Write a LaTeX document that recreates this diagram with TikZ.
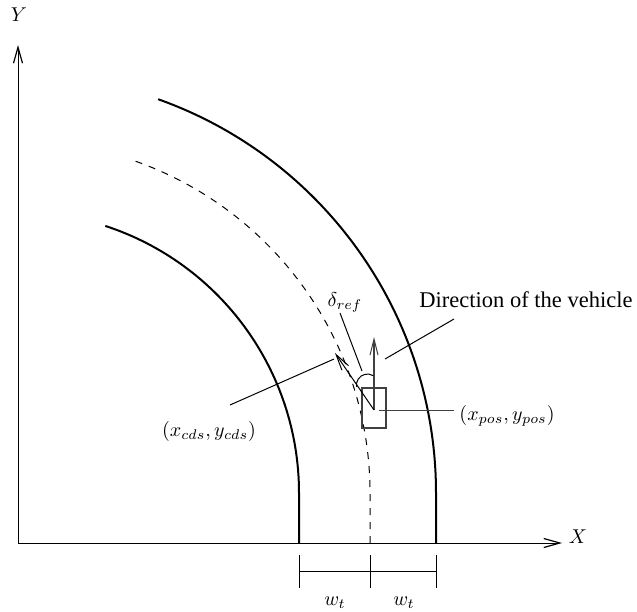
\documentclass[tikz,border=0pt]{standalone}
\usepackage{fontspec}
\setmainfont{Liberation Serif}
\usetikzlibrary{arrows.meta}
\begin{document}
\begin{tikzpicture}[x=0.5pt,y=-0.5pt,
  axis/.style={line width=0.5pt,-{Straight Barb[length=8pt,width=4.5pt,line width=0.6pt]}},
  track/.style={line width=1pt},
  centre/.style={line width=0.5pt,dash pattern=on 3.5pt off 3.5pt},
  thin/.style={line width=0.5pt},
  veh/.style={line width=0.6pt,draw=black!75},
  openarrow/.style={-{Straight Barb[length=8pt,width=4pt,line width=0.5pt]}},
  lbl/.style={inner sep=0pt,anchor=base}]
\useasboundingbox (0,0) rectangle (637,611);
% axes
\coordinate (O) at (18,543);
\coordinate (Ytip) at (18,45);
\coordinate (Xtip) at (562,543);
\draw[axis] (O) -- (Ytip);
\draw[axis] (O) -- (Xtip);
\node[inner sep=0pt] (Ylab) at (19,15) {$Y$};
\node[inner sep=0pt] (Xlab) at (578,537) {$X$};
% tracks
\coordinate (inB) at (299,543);
\coordinate (ceB) at (370,543);
\coordinate (ouB) at (436,543);
\draw[track] (inB) -- (299,493) arc[start angle=0,end angle=-71.9,radius=281];
\draw[centre] (ceB) -- (370,493) arc[start angle=0,end angle=-70.8,radius=352];
\draw[track] (ouB) -- (436,493) arc[start angle=0,end angle=-70.4,radius=418];
% vehicle
\node[veh,draw,minimum width=12pt,minimum height=20pt,inner sep=0pt] (car) at (374,408) {};
\coordinate (P) at (374,410);
\coordinate (head) at (374,337);
\coordinate (cds) at (335,353);
\draw[veh,openarrow] (P) -- (head);
\draw[thin,openarrow] (P) -- (cds);
\draw[thin] (373.3,375.7) arc[start angle=-58,end angle=-189,radius=11];
% leaders
\coordinate (posA) at (379,410.5);
\coordinate (posB) at (454,410.5);
\draw[veh] (posA) -- (posB);
\coordinate (cdsA) at (334,359);
\coordinate (cdsB) at (230,405);
\draw[thin] (cdsA) -- (cdsB);
\coordinate (dirA) at (385,359);
\coordinate (dirB) at (454,319);
\draw[thin] (dirA) -- (dirB);
\coordinate (delA) at (340,313);
\coordinate (delB) at (362,371);
\draw[thin] (delA) -- (delB);
% labels
\node[lbl] (dir) at (526,307) {\fontsize{11.25}{13}\selectfont Direction of the vehicle};
\node[lbl] (delta) at (345,306) {$\delta_{ref}$};
\node[inner sep=0pt] (poslab) at (507,416) {$(x_{pos},y_{pos})$};
\node[inner sep=0pt] (cdslab) at (209,431) {$(x_{cds},y_{cds})$};
% dimension
\coordinate (d1t) at (299,555); \coordinate (d1b) at (299,588);
\coordinate (d2t) at (370,555); \coordinate (d2b) at (370,588);
\coordinate (d3t) at (436,555); \coordinate (d3b) at (436,588);
\draw[thin] (d1t) -- (d1b);
\draw[thin] (d2t) -- (d2b);
\draw[thin] (d3t) -- (d3b);
\draw[thin] (299,571) coordinate (h1) -- (436,571) coordinate (h2);
\node[lbl] (w1) at (335,605) {$w_t$};
\node[lbl] (w2) at (404,605) {$w_t$};
\end{tikzpicture}
\end{document}
